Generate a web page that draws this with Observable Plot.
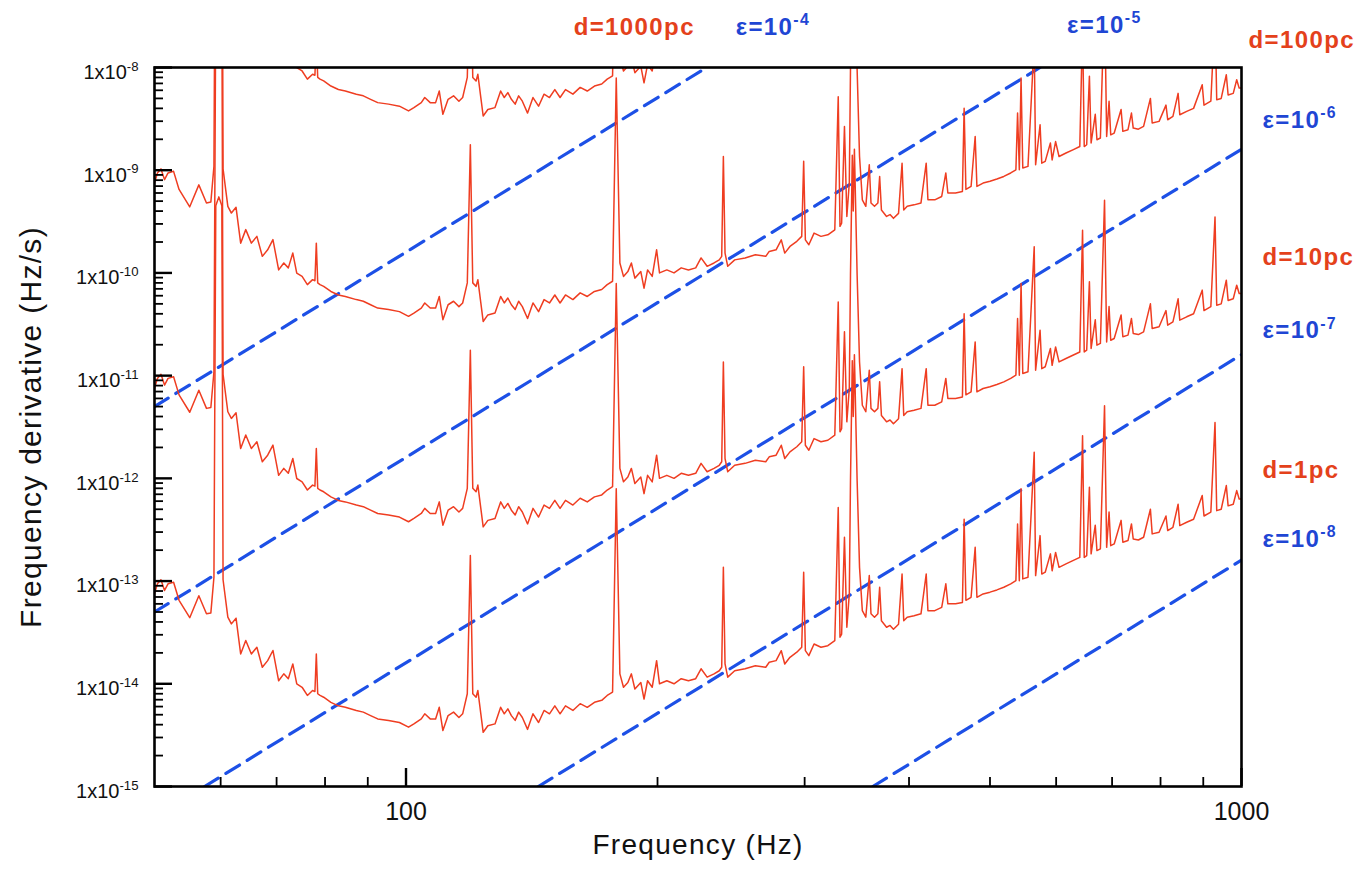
<!DOCTYPE html>
<html><head><meta charset="utf-8">
<script src="https://cdn.jsdelivr.net/npm/d3@7"></script>
<script src="https://cdn.jsdelivr.net/npm/@observablehq/plot@0.6"></script>
<style>html,body{margin:0;padding:0;background:#fff;} #chart svg{display:block;}</style>
</head><body><div id="chart"></div>
<script>
const frequencyHz = [
50,50.4,50.9,51.4,51.9,52.7,53.5,55.1,56.5,57.7,58.4,58.9,59.2,59.7,60.2,60.4,61.2,61.8,62.6,63.4,
64.3,65.3,66.3,67.3,68.3,69.3,70.4,71.4,72.3,73.2,74.0,75.1,76.2,77.3,77.8,78.1,78.4,78.9,79.7,81.3,
83.0,84.6,87.2,88.9,90.7,92.5,95.3,98.2,100.7,102.2,104.3,105.3,106.9,108.5,109.6,110.7,112.3,114.0,115.7,116.9,
118.4,119.4,120.2,121.3,121.9,122.9,123.7,125.3,127.8,129.8,131.1,132.4,133.7,135.1,136.4,137.8,139.8,141.9,144.1,146.3,
148.5,150.7,152.9,155.2,158.4,161.6,164.8,168.1,171.5,174.1,176.7,178.5,180.3,182.1,184.3,186.1,187.9,191.0,192.7,194.6,
197.1,199.5,201.1,205.2,209.3,213.5,217.8,222.2,225.5,229.3,233.7,237.1,238.7,239.8,240.9,242.7,247.4,254.6,261.9,269.5,
272.1,277.3,281.3,284.0,288.1,293.6,297.6,299.2,300.6,303.5,307.9,313.8,319.8,326.0,329.1,330.7,332.2,334.8,337.0,339.3,
340.4,342.1,343.0,344.1,346.7,349.0,351.7,355.1,358.5,360.2,363.7,367.1,368.9,370.7,376.0,379.6,383.2,388.6,392.4,394.2,
398.0,405.6,413.4,419.4,421.4,429.4,437.7,442.7,445.2,454.7,463.4,465.6,467.9,474.6,480.0,482.3,490.6,500.0,509.6,519.4,
529.4,537.0,539.5,542.1,544.7,547.3,555.2,564.8,567.0,574.0,576.7,582.2,590.6,593.4,599.1,604.8,616.5,628.3,640.4,645.3,
648.3,652.7,657.6,660.7,668.3,671.4,677.8,685.6,689.6,694.2,697.4,704.1,717.6,721.1,731.4,738.4,742.0,752.6,763.5,778.0,
781.8,796.8,812.1,816.0,827.8,839.7,843.6,859.8,876.3,897.4,901.8,919.0,929.6,934.0,945.6,959.0,963.8,977.5,986.9,993.6,
1000];
const fdotAt1pc = [
7.5e-14,9.4e-14,1.03e-13,8.1e-14,9.4e-14,9.75e-14,6.5e-14,4.4e-14,7.2e-14,4.8e-14,4.9e-14,1.09e-13,4.5e-10,5.5e-10,4.5e-10,1.03e-13,4.45e-14,3.83e-14,4.35e-14,1.95e-14,
2.64e-14,1.95e-14,2.27e-14,1.45e-14,1.68e-14,2.11e-14,1.07e-14,1.25e-14,1.12e-14,1.56e-14,9.97e-15,9.25e-15,7.7e-15,8.6e-15,8.4e-15,1.95e-14,8.0e-15,7.7e-15,7.4e-15,6.6e-15,
6.1e-15,5.9e-15,5.5e-15,5.3e-15,4.9e-15,4.55e-15,4.4e-15,4.2e-15,3.78e-15,4.07e-15,4.55e-15,5.1e-15,4.55e-15,4.55e-15,5.9e-15,3.5e-15,4.9e-15,5.3e-15,4.7e-15,5.1e-15,
8.0e-15,1.77e-13,8.0e-15,7.4e-15,8.6e-15,5.1e-15,3.37e-15,3.9e-15,4.07e-15,5.9e-15,5.1e-15,5.7e-15,4.9e-15,4.4e-15,5.3e-15,4.7e-15,3.6e-15,5.1e-15,4.2e-15,5.5e-15,
5.1e-15,6.1e-15,5.1e-15,6.1e-15,5.5e-15,6.4e-15,5.9e-15,6.6e-15,6.9e-15,7.7e-15,8.3e-15,7.9e-13,1.25e-14,9.25e-15,1.03e-14,1.25e-14,8.9e-15,1.03e-14,7.1e-15,1.07e-14,
9.25e-15,1.68e-14,1.0e-14,1.07e-14,1.0e-14,1.12e-14,1.07e-14,1.12e-14,1.4e-14,1.16e-14,1.25e-14,1.34e-14,1.45e-14,1.36e-13,1.56e-14,1.16e-14,1.34e-14,1.4e-14,1.5e-14,1.45e-14,
1.62e-14,1.68e-14,2.1e-14,1.56e-14,1.81e-14,2.03e-14,2.27e-14,1.22e-13,2.1e-14,1.88e-14,2.44e-14,2.27e-14,2.35e-14,2.63e-14,5.2e-13,2.84e-14,3.05e-14,2.67e-13,3.55e-14,7.5e-14,
9.5e-13,1.4e-11,4e-12,1.6e-11,9.5e-13,1.36e-13,5.15e-14,4.45e-14,1.13e-13,4.8e-14,4.45e-14,4.8e-14,8.7e-14,4.1e-14,3.55e-14,3.7e-14,3.4e-14,3.8e-14,1.17e-13,4.1e-14,
4.45e-14,4.6e-14,4.8e-14,1.17e-13,5.15e-14,5.15e-14,5.55e-14,9.4e-14,6.0e-14,6.0e-14,6.2e-14,4.0e-13,6.5e-14,6.95e-14,2.13e-13,6.95e-14,7.5e-14,7.8e-14,8.2e-14,8.7e-14,
9.4e-14,1.01e-13,3.6e-13,1.01e-13,7.9e-13,1.05e-13,1.09e-13,1.8e-12,1.13e-13,2.77e-13,1.17e-13,1.22e-13,1.84e-13,1.26e-13,1.9e-13,1.36e-13,1.47e-13,1.58e-13,1.7e-13,2.6e-12,
1.7e-13,1.77e-13,8.2e-13,1.84e-13,3.5e-13,1.98e-13,2.06e-13,5.1e-12,2.13e-13,4.7e-13,2.21e-13,2.3e-13,3.9e-13,2.39e-13,2.48e-13,3.6e-13,2.57e-13,2.51e-13,2.67e-13,5.0e-13,
2.88e-13,2.99e-13,4.3e-13,3.1e-13,3.34e-13,5.6e-13,3.47e-13,3.74e-13,4.0e-13,6.8e-13,4.3e-13,4.7e-13,3.5e-12,4.85e-13,5.0e-13,8.5e-13,5.4e-13,5.6e-13,7.6e-13,6.3e-13,
6.3e-13];
const distancesPc = [1000, 100, 10, 1];

// epsilon (ellipticity) lines: end points where each dashed line meets the frame
const epsilonExponents = [-4, -5, -6, -7, -8];
const epsilonLineFreq = [[50, 229], [50, 574], [57.4, 1000], [144, 1000], [362, 1000]];
const epsilonLineFdot = [[5e-12, 1e-8], [5e-14, 1e-8], [1e-15, 1.6e-9], [1e-15, 1.6e-11], [1e-15, 1.6e-13]];

// ticks
const yMajorTicks = [1e-8, 1e-9, 1e-10, 1e-11, 1e-12, 1e-13, 1e-14, 1e-15];
const yMinorMantissas = [2, 3, 4, 5, 6, 7, 8, 9];
const xMajorTicks = [100, 1000];
const xMinorTicks = [60, 70, 80, 90, 200, 300, 400, 500, 600, 700, 800, 900];

const RED = "#ef3d21", TEXT_RED = "#e4411b", BLUE = "#1d50e6", TEXT_BLUE = "#1f46d4";
const FONT = "'Liberation Sans', Arial, Helvetica, sans-serif";

const W = 1362, H = 871, M = {top: 67, left: 154, right: 121, bottom: 85};
const frameW = W - M.left - M.right, frameH = H - M.top - M.bottom;
const MAJOR = 18, MINOR = 9;

const curveRows = distancesPc.flatMap(d => frequencyHz.map((f, i) => ({d, f, v: fdotAt1pc[i] * d * d})));
const epsRows = epsilonExponents.flatMap((e, j) => [0, 1].map(k => ({e, f: epsilonLineFreq[j][k], v: epsilonLineFdot[j][k]})));
const yMinorTicks = yMajorTicks.slice(1).flatMap(t => yMinorMantissas.map(m => m * t));
const endAt = d => fdotAt1pc[fdotAt1pc.length - 1] * d * d;

// annotation labels anchored on the curve / line end points
const labels = [
  {text: "d=1000pc", x: epsilonLineFreq[0][1], y: epsilonLineFdot[0][1], dx: -133, dy: -40, fill: TEXT_RED},
  {text: "ε=10^-4", x: epsilonLineFreq[0][1], y: epsilonLineFdot[0][1], dx: 29, dy: -40, fill: TEXT_BLUE},
  {text: "ε=10^-5", x: epsilonLineFreq[1][1], y: epsilonLineFdot[1][1], dx: 27, dy: -42, fill: TEXT_BLUE},
  {text: "d=100pc", x: 1000, y: endAt(100), dx: 7, dy: -48, fill: TEXT_RED},
  {text: "ε=10^-6", x: epsilonLineFreq[2][1], y: epsilonLineFdot[2][1], dx: 21, dy: -29, fill: TEXT_BLUE},
  {text: "d=10pc", x: 1000, y: endAt(10), dx: 21, dy: -36, fill: TEXT_RED},
  {text: "ε=10^-7", x: epsilonLineFreq[3][1], y: epsilonLineFdot[3][1], dx: 21, dy: -24, fill: TEXT_BLUE},
  {text: "d=1pc", x: 1000, y: endAt(1), dx: 21, dy: -29, fill: TEXT_RED},
  {text: "ε=10^-8", x: epsilonLineFreq[4][1], y: epsilonLineFdot[4][1], dx: 21, dy: -21, fill: TEXT_BLUE}
];

const chart = Plot.plot({
  width: W,
  height: H,
  marginTop: M.top, marginLeft: M.left, marginRight: M.right, marginBottom: M.bottom,
  style: {fontFamily: FONT, background: "#ffffff", color: "#111"},
  x: {type: "log", domain: [50, 1000], label: null},
  y: {type: "log", domain: [1e-15, 1e-8], label: null},
  marks: [
    Plot.line(epsRows, {x: "f", y: "v", z: "e", stroke: BLUE, strokeWidth: 3.2, strokeDasharray: "16 9", clip: true}),
    Plot.line(curveRows, {x: "f", y: "v", z: "d", stroke: RED, strokeWidth: 1.5, clip: true}),
    // inward ticks (rules inset from the far side of the frame)
    Plot.ruleY(yMajorTicks, {y: d => d, insetRight: frameW - MAJOR, stroke: "#000", strokeWidth: 2.4}),
    Plot.ruleY(yMinorTicks, {y: d => d, insetRight: frameW - MINOR, stroke: "#000", strokeWidth: 1.8}),
    Plot.ruleX(xMajorTicks, {x: d => d, insetTop: frameH - MAJOR, stroke: "#000", strokeWidth: 2.4}),
    Plot.ruleX(xMinorTicks, {x: d => d, insetTop: frameH - MINOR, stroke: "#000", strokeWidth: 1.8}),
    // tick labels
    Plot.axisY(yMajorTicks, {anchor: "left", tickSize: 0, tickPadding: 16, fontSize: 20, dy: 5,
      tickFormat: d => `1x10^${Math.round(Math.log10(d))}`}),
    Plot.axisX(xMajorTicks, {anchor: "bottom", tickSize: 0, tickPadding: 16, fontSize: 25, tickFormat: d => String(d)}),
    Plot.frame({stroke: "#000", strokeWidth: 2.6}),
    Plot.text(["Frequency (Hz)"], {frameAnchor: "bottom", dy: 67, fontSize: 28, fill: "#111"}),
    Plot.text(["Frequency derivative (Hz/s)"], {frameAnchor: "left", dx: -123, rotate: -90, textAnchor: "middle", fontSize: 30, fill: "#111"}),
    ...labels.map(l => Plot.text([l], {x: "x", y: "y", text: "text", dx: l.dx, dy: l.dy, fill: l.fill,
      textAnchor: "start", fontSize: 24, fontWeight: "bold"}))
  ]
});

// superscripts and letter spacing
const SVGNS = "http://www.w3.org/2000/svg";
chart.querySelectorAll("text").forEach(t => {
  const nodes = t.querySelectorAll("tspan").length ? [...t.querySelectorAll("tspan")] : [t];
  nodes.forEach(n => {
    const s = n.textContent;
    if (s.includes("^")) {
      const [base, exp] = s.split("^");
      n.textContent = base;
      const sup = document.createElementNS(SVGNS, "tspan");
      sup.setAttribute("font-size", "0.66em");
      sup.setAttribute("dy", "-0.62em");
      sup.textContent = exp;
      n.appendChild(sup);
    }
  });
  const s = t.textContent;
  if (s.startsWith("d=") || s.startsWith("ε=")) t.style.letterSpacing = "1.4px";
  if (s.startsWith("Frequency")) t.style.letterSpacing = "1.3px";
});
document.getElementById("chart").appendChild(chart);
</script></body></html>
